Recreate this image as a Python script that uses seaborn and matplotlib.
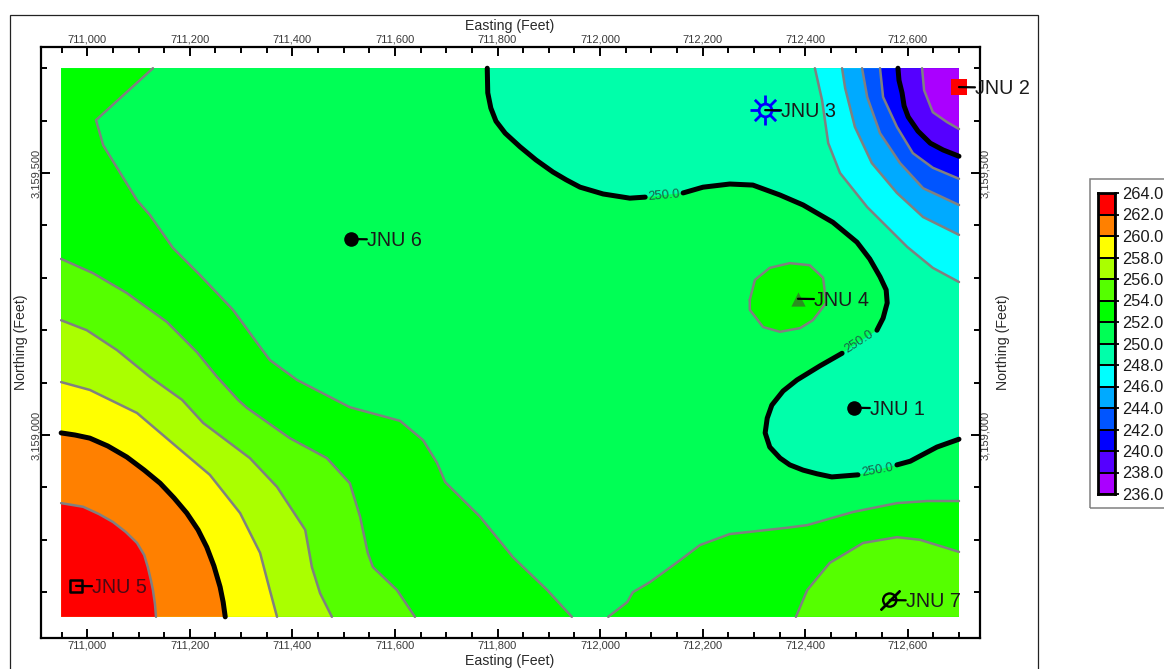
import numpy as np
import seaborn as sns
import matplotlib
matplotlib.use("Agg")
import matplotlib.pyplot as plt
from matplotlib.colors import ListedColormap
from matplotlib.patches import Rectangle
from matplotlib.ticker import MultipleLocator, StrMethodFormatter

W, H = 1164, 669

# grid extent (feet)
E_MIN, E_MAX = 710949, 712700
N_MIN, N_MAX = 3158653, 3159700

# contour levels and their band colours, low to high
levels = [236, 238, 240, 242, 244, 246, 248, 250, 252, 254, 256, 258, 260, 262, 264]
band_colors = ["#aa00ff", "#5500ff", "#0000ff", "#0055ff", "#00aaff", "#00ffff", "#00ffaa",
               "#00ff55", "#00ff00", "#55ff00", "#aaff00", "#ffff00", "#ff8000", "#ff0000"]

# contour lines
e238 = [712628, 712632, 712649, 712677, 712700]
n238 = [3159700, 3159658, 3159616, 3159597, 3159584]
e240 = [712581, 712583, 712589, 712593, 712601, 712620, 712644, 712669, 712700]
n240 = [3159700, 3159677, 3159653, 3159628, 3159607, 3159580, 3159557, 3159544, 3159532]
e242 = [712546, 712552, 712579, 712610, 712649, 712700]
n242 = [3159700, 3159645, 3159588, 3159538, 3159510, 3159489]
e244 = [712511, 712521, 712546, 712585, 712630, 712700]
n244 = [3159700, 3159645, 3159576, 3159519, 3159471, 3159439]
e246 = [712472, 712478, 712497, 712530, 712579, 712630, 712700]
n246 = [3159700, 3159662, 3159588, 3159519, 3159462, 3159416, 3159382]
e248 = [712419, 712433, 712445, 712468, 712521, 712599, 712649, 712700]
n248 = [3159700, 3159639, 3159557, 3159500, 3159435, 3159359, 3159319, 3159292]

# the 250 line is broken up by its three labels
e250a = [711780, 711781, 711787, 711797, 711815, 711844, 711875, 711908, 711934, 711961, 712006, 712058, 712088]
n250a = [3159700, 3159653, 3159624, 3159599, 3159576, 3159550, 3159525, 3159502, 3159487, 3159473, 3159460,
         3159452, 3159454]
e250b = [712162, 712201, 712253, 712298, 712351, 712396, 712454, 712501, 712526, 712546, 712558, 712560,
         712552, 712540]
n250b = [3159462, 3159473, 3159479, 3159477, 3159458, 3159439, 3159406, 3159368, 3159336, 3159302, 3159277,
         3159252, 3159223, 3159200]
e250c = [712472, 712429, 712384, 712357, 712335, 712326, 712322, 712331, 712351, 712370, 712396, 712423,
         712452, 712503]
n250c = [3159156, 3159132, 3159105, 3159084, 3159057, 3159032, 3159004, 3158977, 3158956, 3158943, 3158933,
         3158926, 3158920, 3158924]
e250d = [712579, 712605, 712657, 712700]
n250d = [3158943, 3158950, 3158977, 3158992]

e252a = [711128, 711017, 711031, 711097, 711122, 711167, 711220, 711284, 711331, 711356, 711409,
         711512, 711610, 711655, 711682, 711698, 711766, 711830, 711897, 711945]
n252a = [3159700, 3159601, 3159553, 3159448, 3159420, 3159357, 3159305, 3159239, 3159176, 3159143, 3159105,
         3159053, 3159027, 3158990, 3158947, 3158910, 3158844, 3158767, 3158704, 3158653]
e252b = [712016, 712053, 712064, 712097, 712156, 712195, 712253, 712365, 712404, 712493, 712579, 712638, 712700]
n252b = [3158653, 3158681, 3158700, 3158719, 3158761, 3158790, 3158811, 3158823, 3158828, 3158853, 3158870,
         3158874, 3158874]
# closed loop round JNU 4
e252c = [712292, 712302, 712331, 712370, 712409, 712435, 712441, 712415, 712390, 712351, 712318, 712292, 712292]
n252c = [3159258, 3159296, 3159319, 3159328, 3159324, 3159300, 3159252, 3159219, 3159204, 3159197, 3159206,
         3159239, 3159258]

e254a = [710949, 711011, 711077, 711155, 711214, 711253, 711294, 711311, 711395, 711467, 711512, 711532,
         711547, 711557, 711604, 711639]
n254a = [3159336, 3159309, 3159271, 3159216, 3159158, 3159111, 3159067, 3159052, 3158994, 3158956, 3158908,
         3158844, 3158775, 3158748, 3158704, 3158653]
e254b = [712382, 712404, 712448, 712513, 712579, 712624, 712700]
n254b = [3158653, 3158704, 3158756, 3158794, 3158805, 3158800, 3158777]

e256 = [710949, 710999, 711058, 711122, 711185, 711226, 711317, 711370, 711415, 711425, 711438, 711454, 711477]
n256 = [3159219, 3159200, 3159162, 3159111, 3159067, 3159023, 3158956, 3158901, 3158834, 3158819, 3158748,
        3158698, 3158653]
e258 = [710949, 711005, 711097, 711175, 711239, 711298, 711337, 711356, 711370]
n258 = [3159101, 3159086, 3159042, 3158977, 3158924, 3158851, 3158775, 3158704, 3158653]
e260 = [710949, 710976, 711005, 711040, 711077, 711111, 711142, 711169, 711194, 711216, 711233, 711247, 711259,
        711265, 711269]
n260 = [3159004, 3159000, 3158994, 3158979, 3158958, 3158933, 3158908, 3158880, 3158851, 3158819, 3158786,
        3158750, 3158710, 3158681, 3158653]
e262 = [710949, 710992, 711023, 711050, 711075, 711097, 711111, 711118, 711124, 711128, 711132, 711134]
n262 = [3158870, 3158863, 3158849, 3158834, 3158815, 3158794, 3158771, 3158748, 3158723, 3158704, 3158677, 3158653]

# wells
well_names = ["JNU 1", "JNU 2", "JNU 3", "JNU 4", "JNU 5", "JNU 6", "JNU 7"]
well_e = [712495, 712700, 712322, 712386, 710978, 711514, 712565]
well_n = [3159052, 3159664, 3159620, 3159260, 3158712, 3159374, 3158685]

sns.set_theme(style="white")
plt.rcParams["font.family"] = ["Liberation Sans", "DejaVu Sans"]


def fx(px):
    return px / W


def fy(py):
    return 1 - py / H


def axes_box(left, top, right, bottom):
    return [fx(left), fy(bottom), fx(right) - fx(left), fy(top) - fy(bottom)]


def fill_band(xs, ys, corners, color):
    px = list(xs) + [c[0] for c in corners]
    py = list(ys) + [c[1] for c in corners]
    ax.fill(px, py, color=color, lw=0, zorder=1)


def contour(xs, ys, heavy=False):
    sns.lineplot(x=xs, y=ys, sort=False, estimator=None, ax=ax, zorder=3, clip_on=False,
                 color="black" if heavy else "#808080", lw=3.6 if heavy else 1.8,
                 solid_capstyle="round", solid_joinstyle="round", errorbar=None)


fig = plt.figure(figsize=(W / 100, H / 100), dpi=100, facecolor="white")
ax = fig.add_axes(axes_box(41, 47, 980, 638))
ax.set_xlim(710909.7, 712741)
ax.set_ylim(3158612.6, 3159740.5)
ax.set_facecolor("white")

color_of = dict(zip(levels[:-1], band_colors))
corner_sw = [(E_MIN, N_MIN)]
corner_nw = [(E_MIN, N_MIN), (E_MIN, N_MAX)]
corner_se = [(E_MAX, N_MIN)]
corner_ne = [(E_MAX, N_MAX)]
e250 = e250a + e250b + e250c + e250d
n250 = n250a + n250b + n250c + n250d

ax.add_patch(Rectangle((E_MIN, N_MIN), E_MAX - E_MIN, N_MAX - N_MIN, color=color_of[250], lw=0, zorder=0.5))
fill_band(e252a, n252a, corner_nw, color_of[252])
fill_band(e252b, n252b, corner_se, color_of[252])
fill_band(e254a, n254a, corner_sw, color_of[254])
fill_band(e254b, n254b, corner_se, color_of[254])
fill_band(e256, n256, corner_sw, color_of[256])
fill_band(e258, n258, corner_sw, color_of[258])
fill_band(e260, n260, corner_sw, color_of[260])
fill_band(e262, n262, corner_sw, color_of[262])
fill_band(e250, n250, corner_ne, color_of[248])
fill_band(e248, n248, corner_ne, color_of[246])
fill_band(e246, n246, corner_ne, color_of[244])
fill_band(e244, n244, corner_ne, color_of[242])
fill_band(e242, n242, corner_ne, color_of[240])
fill_band(e240, n240, corner_ne, color_of[238])
fill_band(e238, n238, corner_ne, color_of[236])
fill_band(e252c, n252c, [], color_of[252])

for xs, ys in [(e238, n238), (e242, n242), (e244, n244), (e246, n246), (e248, n248), (e252a, n252a),
               (e252b, n252b), (e252c, n252c), (e254a, n254a), (e254b, n254b), (e256, n256),
               (e258, n258), (e262, n262)]:
    contour(xs, ys)
for xs, ys in [(e240, n240), (e250a, n250a), (e250b, n250b), (e250c, n250c), (e250d, n250d), (e260, n260)]:
    contour(xs, ys, heavy=True)

# 250.0 labels in the gaps
for x, y, rot in [(712125, 3159456, 5), (712505, 3159178, 33), (712541, 3158932, 10)]:
    ax.text(x, y, "250.0", fontsize=9.2, color="#1a5f4a", rotation=rot, ha="center", va="center",
            rotation_mode="anchor", zorder=4)

# well symbols
sns.scatterplot(x=[well_e[0], well_e[5]], y=[well_n[0], well_n[5]], marker="o", s=110, color="black",
                edgecolor="black", linewidth=0, ax=ax, zorder=5)
sns.scatterplot(x=[well_e[1]], y=[well_n[1]], marker="s", s=125, color="#ff0000", edgecolor="#ff0000",
                linewidth=0, ax=ax, zorder=5, clip_on=False)
sns.scatterplot(x=[well_e[2]], y=[well_n[2]], marker="+", s=470, color="#0000ff", linewidth=2.0, ax=ax, zorder=5)
sns.scatterplot(x=[well_e[2]], y=[well_n[2]], marker="x", s=235, color="#0000ff", linewidth=2.0, ax=ax, zorder=5)
sns.scatterplot(x=[well_e[2]], y=[well_n[2]], marker="o", s=85, color=color_of[248], edgecolor="#0000ff",
                linewidth=2.0, ax=ax, zorder=5.1)
sns.scatterplot(x=[well_e[3]], y=[well_n[3]], marker="^", s=105, color="#2b8f1f", edgecolor="#2b8f1f",
                linewidth=0, ax=ax, zorder=5)
ax.scatter(well_e[4], well_n[4], marker="s", s=85, facecolor="none", edgecolor="black", linewidth=1.8, zorder=5)
ax.scatter(well_e[6], well_n[6], marker="o", s=90, facecolor="none", edgecolor="black", linewidth=1.7, zorder=5)
ax.scatter(well_e[6], well_n[6], marker=(2, 2, -45), s=340, color="black", linewidth=1.7, zorder=5)

for name, x, y in zip(well_names, well_e, well_n):
    ax.annotate(name, xy=(x, y), xytext=(11.5, -1), textcoords="offset points", fontsize=14.2,
                color="#4a0a14" if name == "JNU 5" else "#1a1a1a", va="center", ha="left", zorder=6,
                annotation_clip=False,
                arrowprops=dict(arrowstyle="-", color="black", lw=1.6, shrinkA=0, shrinkB=0,
                                relpos=(0, 0.56), patchA=None))

# axis furniture
ax.xaxis.set_major_locator(MultipleLocator(200))
ax.xaxis.set_minor_locator(MultipleLocator(50))
ax.yaxis.set_major_locator(MultipleLocator(500))
ax.yaxis.set_minor_locator(MultipleLocator(100))
ax.xaxis.set_major_formatter(StrMethodFormatter("{x:,.0f}"))
ax.yaxis.set_major_formatter(StrMethodFormatter("{x:,.0f}"))
ax.tick_params(which="both", direction="in", top=True, bottom=True, left=True, right=True,
               labeltop=True, labelbottom=True, labelleft=True, labelright=True, color="black")
ax.tick_params(which="major", length=6.5, width=1.4, labelsize=8.0, labelcolor="#3a3a3a", pad=1.5)
ax.tick_params(which="minor", length=4, width=1.4)
ax.tick_params(axis="y", which="major", labelrotation=90, pad=0.2)
for t in ax.get_yticklabels():
    t.set_va("center")
for s in ax.spines.values():
    s.set_visible(True)
    s.set_color("black")
    s.set_linewidth(1.6)

title_kw = dict(fontsize=10.2, color="#2a2a2a", ha="center", va="center")
fig.text(fx(510), fy(26), "Easting (Feet)", **title_kw)
fig.text(fx(510), fy(661), "Easting (Feet)", **title_kw)
fig.text(fx(21), fy(342), "Northing (Feet)", rotation=90, **title_kw)
fig.text(fx(1003), fy(342), "Northing (Feet)", rotation=90, **title_kw)

# outer frame and legend box run past the edge of the picture
fig.add_artist(Rectangle((fx(10), fy(690)), fx(1038) - fx(10), fy(14.5) - fy(690), fill=False,
                         edgecolor="#222222", lw=0.9, transform=fig.transFigure))
fig.add_artist(Rectangle((fx(1089.5), fy(508)), fx(1190) - fx(1089.5), fy(179) - fy(508), fill=False,
                         edgecolor="#808080", lw=1.1, transform=fig.transFigure))

# colour key
cax = fig.add_axes(axes_box(1098, 193, 1115, 494))
cells = (np.array(levels[:-1]) + 1)[::-1].reshape(-1, 1)
sns.heatmap(cells, cmap=ListedColormap(band_colors), vmin=236, vmax=264, cbar=False, linewidths=1.2,
            linecolor="black", xticklabels=False, yticklabels=False, ax=cax)
cax.yaxis.tick_right()
cax.set_yticks(np.arange(len(levels)))
cax.set_yticklabels([f"{v:.1f}" for v in levels[::-1]], rotation=0)
cax.tick_params(axis="y", right=True, length=3.2, width=1.3, color="black", pad=2.0, labelsize=11.8,
                labelcolor="#1a1a1a")
for s in cax.spines.values():
    s.set_visible(True)
    s.set_color("black")
    s.set_linewidth(2.0)

fig.savefig("out.png", dpi=100)
